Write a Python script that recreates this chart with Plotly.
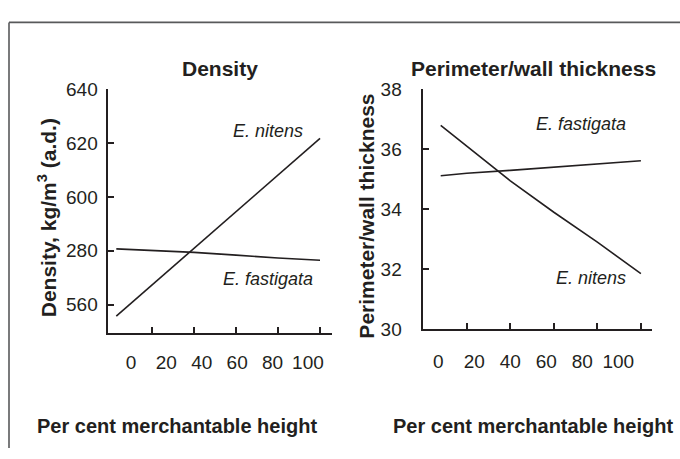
import plotly.graph_objects as go

# Per cent merchantable height sampled along each stem
height_pct_density = [3, 20, 40, 60, 80, 100]
height_pct_pwt = [8, 20, 40, 60, 80, 100]

# Air-dry density, kg/m3
density_nitens = [555.7, 567.3, 581.0, 594.6, 608.2, 621.8]
density_fastigata = [580.7, 580.2, 579.4, 578.4, 577.3, 576.5]

# Perimeter / wall thickness ratio
pwt_nitens = [36.8, 36.1, 34.95, 33.9, 32.9, 31.85]
pwt_fastigata = [35.12, 35.2, 35.3, 35.4, 35.5, 35.62]

# Axis ticks and labels
x_tick_marks = [20, 40, 60, 80, 100]
x_tick_labels = [0, 20, 40, 60, 80, 100]
density_ticks = [560, 580, 600, 620, 640]
density_tick_text = ["560", "280", "600", "620", "640"]
pwt_ticks = [30, 32, 34, 36, 38]

W, H = 680, 459
FONT = "Liberation Sans, Arial, Helvetica, sans-serif"
INK = "#231f20"

def px_x(p):
    return p / W

def px_y(p):
    return 1 - p / H

fig = go.Figure()

line_style = dict(color=INK, width=1.6)
fig.add_trace(go.Scatter(x=height_pct_density, y=density_nitens, mode="lines",
                         line=line_style, xaxis="x", yaxis="y", hoverinfo="skip"))
fig.add_trace(go.Scatter(x=height_pct_density, y=density_fastigata, mode="lines",
                         line=line_style, xaxis="x", yaxis="y", hoverinfo="skip"))
fig.add_trace(go.Scatter(x=height_pct_pwt, y=pwt_nitens, mode="lines",
                         line=line_style, xaxis="x2", yaxis="y2", hoverinfo="skip"))
fig.add_trace(go.Scatter(x=height_pct_pwt, y=pwt_fastigata, mode="lines",
                         line=line_style, xaxis="x2", yaxis="y2", hoverinfo="skip"))
# invisible carriers for the label axes
fig.add_trace(go.Scatter(x=x_tick_labels, y=[None] * 6, mode="lines",
                         xaxis="x3", yaxis="y", showlegend=False, hoverinfo="skip"))
fig.add_trace(go.Scatter(x=x_tick_labels, y=[None] * 6, mode="lines",
                         xaxis="x4", yaxis="y2", showlegend=False, hoverinfo="skip"))

tick_font = dict(family=FONT, size=19, color=INK)
common_axis = dict(showgrid=False, zeroline=False, showline=True, linecolor=INK,
                   linewidth=1.5, ticks="inside", ticklen=6, tickwidth=1.5,
                   tickcolor=INK, tickfont=tick_font, fixedrange=True)

fig.update_layout(
    width=W, height=H,
    margin=dict(l=0, r=0, t=0, b=0),
    paper_bgcolor="white", plot_bgcolor="white",
    showlegend=False,
    font=dict(family=FONT, color=INK),
    xaxis=dict(common_axis, domain=[px_x(108.3), px_x(332)], range=[-0.81, 105.7],
               tickvals=x_tick_marks, showticklabels=False, anchor="y"),
    yaxis=dict(common_axis, domain=[px_y(338), px_y(83.3)], range=[549.6, 640],
               tickvals=density_ticks, ticktext=density_tick_text, anchor="x",
               ticklabelstandoff=5),
    xaxis3=dict(overlaying="x", anchor="y", range=[-12.8, 113.6], showgrid=False,
                zeroline=False, showline=False, ticks="", tickvals=x_tick_labels,
                tickfont=tick_font, ticklabelstandoff=16, fixedrange=True),
    xaxis2=dict(common_axis, domain=[px_x(423.3), px_x(652)], range=[0, 105.1],
                tickvals=x_tick_marks, showticklabels=False, anchor="y2"),
    yaxis2=dict(common_axis, domain=[px_y(334.3), px_y(83.3)], range=[30, 38],
                tickvals=pwt_ticks, anchor="x2", ticklabelstandoff=16),
    xaxis4=dict(overlaying="x2", anchor="y2", range=[-8.33, 118.7], showgrid=False,
                zeroline=False, showline=False, ticks="", tickvals=x_tick_labels,
                tickfont=tick_font, ticklabelstandoff=19, fixedrange=True),
)

bold = dict(family=FONT, size=21, color=INK)
ital = dict(family=FONT, size=18, color=INK)

annotations = [
    # panel titles
    dict(text="<b>Density</b>", x=px_x(219.5), y=px_y(61.7), xref="paper", yref="paper",
         showarrow=False, font=bold, xanchor="center", yanchor="middle"),
    dict(text="<b>Perimeter/wall thickness</b>", x=px_x(533), y=px_y(61.7),
         xref="paper", yref="paper", showarrow=False, font=bold,
         xanchor="center", yanchor="middle"),
    # y-axis titles
    dict(text="<b>Density, kg/m<sup>3</sup> (a.d.)</b>", x=px_x(46.7), y=px_y(217.5),
         xref="paper", yref="paper", showarrow=False, font=bold, textangle=-90,
         xanchor="center", yanchor="middle"),
    dict(text="<b>Perimeter/wall thickness</b>", x=px_x(366.7), y=px_y(215.8),
         xref="paper", yref="paper", showarrow=False, font=bold, textangle=-90,
         xanchor="center", yanchor="middle"),
    # x-axis titles
    dict(text="<b>Per cent merchantable height</b>", x=px_x(35), y=px_y(436),
         xref="paper", yref="paper", showarrow=False, font=dict(bold, size=20),
         xanchor="left", yanchor="middle"),
    dict(text="<b>Per cent merchantable height</b>", x=px_x(675), y=px_y(436),
         xref="paper", yref="paper", showarrow=False, font=dict(bold, size=20),
         xanchor="right", yanchor="middle"),
    # species labels
    dict(text="<i>E. nitens</i>", x=75.2, y=624.5, xref="x", yref="y",
         showarrow=False, font=ital),
    dict(text="<i>E. fastigata</i>", x=75, y=569.4, xref="x", yref="y",
         showarrow=False, font=ital),
    dict(text="<i>E. fastigata</i>", x=72.3, y=36.86, xref="x2", yref="y2",
         showarrow=False, font=ital),
    dict(text="<i>E. nitens</i>", x=77.2, y=31.71, xref="x2", yref="y2",
         showarrow=False, font=ital),
]
fig.update_layout(annotations=annotations)

# open frame: top and left rules
frame = dict(color="#58595b", width=1.6)
fig.add_shape(type="line", xref="paper", yref="paper", x0=px_x(9), x1=1,
              y0=px_y(13), y1=px_y(13), line=frame)
fig.add_shape(type="line", xref="paper", yref="paper", x0=px_x(9), x1=px_x(9),
              y0=px_y(13), y1=0, line=frame)

fig.write_html("out.html")
